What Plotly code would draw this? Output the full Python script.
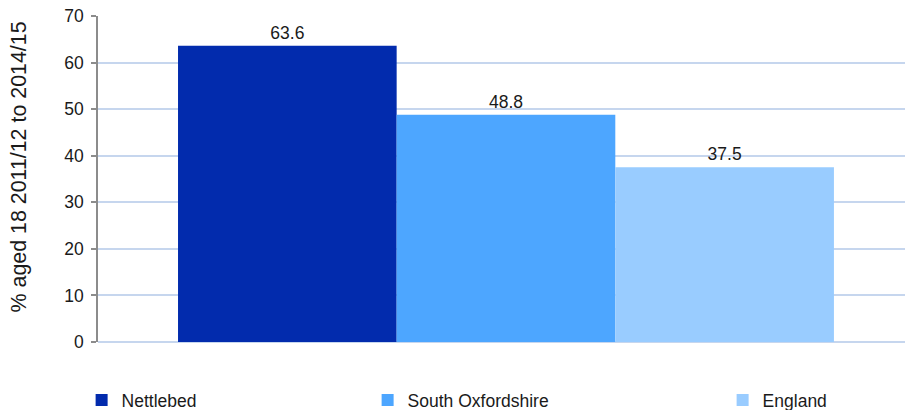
import plotly.graph_objects as go

areas = ["Nettlebed", "South Oxfordshire", "England"]
values = [63.6, 48.8, 37.5]
colors = ["#022BAD", "#4DA6FF", "#99CCFF"]
positions = [0, 1, 2]

fig = go.Figure()

legend_names = ["legend", "legend2", "legend3"]
for i in range(3):
    fig.add_trace(
        go.Bar(
            x=[positions[i]], y=[values[i]], width=1, name=areas[i],
            marker=dict(color=colors[i], line=dict(width=0)),
            text=[f"{values[i]:.1f}"], textposition="outside",
            textfont=dict(size=17.5, color="#1a1a1a"), cliponaxis=False,
            legend=legend_names[i],
        )
    )

# legend placement (paper coordinates)
leg_x = [-0.0203, 0.3341, 0.774]
leg_common = dict(orientation="h", yanchor="middle", y=-0.178, xanchor="left",
                  font=dict(size=17.5, color="#1a1a1a"), bgcolor="rgba(0,0,0,0)")

fig.update_layout(
    width=906, height=410,
    margin=dict(l=98, r=1, t=16, b=68, autoexpand=False),
    plot_bgcolor="white", paper_bgcolor="white",
    font=dict(family="Liberation Sans, Arial, sans-serif", size=17, color="#1a1a1a"),
    showlegend=True,
    legend=dict(x=leg_x[0], **leg_common),
    legend2=dict(x=leg_x[1], **leg_common),
    legend3=dict(x=leg_x[2], **leg_common),
    xaxis=dict(range=[-0.866, 2.825], showticklabels=False, showgrid=False,
               zeroline=False, showline=False, ticks="", automargin=False),
    yaxis=dict(
        range=[0, 70], tickvals=[0, 10, 20, 30, 40, 50, 60, 70],
        showgrid=True, gridcolor="#C6D6EE", gridwidth=2,
        zeroline=True, zerolinecolor="#C6D6EE", zerolinewidth=2,
        showline=True, linecolor="#8C8C8C", linewidth=1.5,
        ticks="outside", ticklen=5, tickcolor="#8C8C8C", tickwidth=1.5,
        ticklabelstandoff=4, tickfont=dict(size=17.5), automargin=False,
    ),
    annotations=[dict(
        text="% aged 18 2011/12 to 2014/15", textangle=-90,
        xref="paper", yref="paper", x=-0.0985, y=0.537,
        xanchor="center", yanchor="middle", showarrow=False,
        font=dict(size=21.4, color="#1a1a1a"),
    )],
)

# drop the default 8px body margin so the figure sits at the page corner
fig.write_html("out.html", config={"displayModeBar": False},
               post_script="document.body.style.margin='0px';")
